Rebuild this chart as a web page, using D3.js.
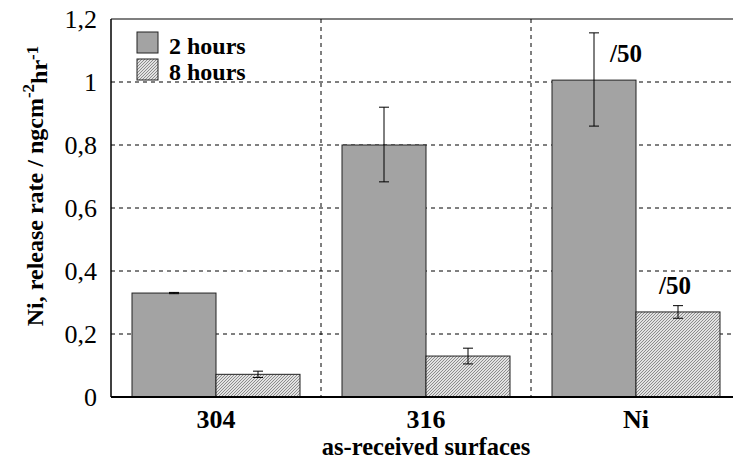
<!DOCTYPE html>
<html>
<head>
<meta charset="utf-8">
<script src="https://cdn.jsdelivr.net/npm/d3@7"></script>
<style>
  body { margin: 0; background: #fff; }
  svg text { font-family: "Liberation Serif", "Times New Roman", serif; fill: #000; }
</style>
</head>
<body>
<svg id="chart"></svg>
<script>
// chart size
const width = 733;
const height = 463;

// data
const categories = ["304", "316", "Ni"];
const seriesNames = ["2 hours", "8 hours"];
const values2h = [0.33, 0.80, 1.006];
const errLow2h = [0.328, 0.683, 0.860];
const errHigh2h = [0.332, 0.920, 1.156];
const values8h = [0.072, 0.130, 0.270];
const errLow8h = [0.062, 0.105, 0.250];
const errHigh8h = [0.082, 0.155, 0.290];
const yTicks = [0, 0.2, 0.4, 0.6, 0.8, 1, 1.2];
const notes = [
  { cat: "Ni", series: "2 hours", text: "/50" },
  { cat: "Ni", series: "8 hours", text: "/50" }
];

const margin = { top: 19, left: 111 };
const plotW = 630, plotH = 378;

const svg = d3.select("#chart")
  .attr("width", width)
  .attr("height", height);

// fine hatched fill for the 8 hour bars
const defs = svg.append("defs");
const pat = defs.append("pattern")
  .attr("id", "hatch")
  .attr("patternUnits", "userSpaceOnUse")
  .attr("width", 3).attr("height", 3);
pat.append("rect").attr("width", 3).attr("height", 3).attr("fill", "#e2e2e2");
pat.append("path")
  .attr("d", "M0,3 L3,0 M-1,1 L1,-1 M2,4 L4,2")
  .attr("stroke", "#8c8c8c").attr("stroke-width", 1);

const rows = categories.map((c, i) => [
  { cat: c, series: "2 hours", v: values2h[i], lo: errLow2h[i], hi: errHigh2h[i] },
  { cat: c, series: "8 hours", v: values8h[i], lo: errLow8h[i], hi: errHigh8h[i] }
]).flat();

const x0 = d3.scaleBand()
  .domain(categories)
  .range([margin.left, margin.left + plotW])
  .paddingInner(0.2)
  .paddingOuter(0.1);

const x1 = d3.scaleBand()
  .domain(seriesNames)
  .range([0, x0.bandwidth()]);

const y = d3.scaleLinear()
  .domain([0, 1.2])
  .range([margin.top + plotH, margin.top]);

const fillFor = s => s === "2 hours" ? "#a3a3a3" : "url(#hatch)";

// horizontal dashed grid
svg.append("g")
  .selectAll("line")
  .data(yTicks.filter(t => t > 0 && t < 1.2))
  .enter().append("line")
  .attr("x1", margin.left).attr("x2", margin.left + plotW)
  .attr("y1", d => y(d)).attr("y2", d => y(d))
  .attr("stroke", "#000")
  .attr("stroke-width", 1)
  .attr("stroke-dasharray", "4,4");

// vertical dashed lines between groups
const step = x0.step();
svg.append("g")
  .selectAll("line")
  .data(categories.slice(1))
  .enter().append("line")
  .attr("x1", d => x0(d) - (step - x0.bandwidth()) / 2)
  .attr("x2", d => x0(d) - (step - x0.bandwidth()) / 2)
  .attr("y1", margin.top).attr("y2", margin.top + plotH)
  .attr("stroke", "#000")
  .attr("stroke-width", 1)
  .attr("stroke-dasharray", "4,4");

// bars
svg.append("g")
  .selectAll("rect")
  .data(rows)
  .enter().append("rect")
  .attr("x", d => x0(d.cat) + x1(d.series))
  .attr("y", d => y(d.v))
  .attr("width", x1.bandwidth())
  .attr("height", d => y(0) - y(d.v))
  .attr("fill", d => fillFor(d.series))
  .attr("stroke", "#222")
  .attr("stroke-width", 1);

// error bars
const eb = svg.append("g").attr("stroke", "#000").attr("stroke-width", 1);
rows.forEach(d => {
  const cx = x0(d.cat) + x1(d.series) + x1.bandwidth() / 2;
  eb.append("line").attr("x1", cx).attr("x2", cx).attr("y1", y(d.lo)).attr("y2", y(d.hi));
  [d.lo, d.hi].forEach(v => {
    eb.append("line").attr("x1", cx - 5).attr("x2", cx + 5).attr("y1", y(v)).attr("y2", y(v));
  });
});

// frame: left, top, bottom
svg.append("line")
  .attr("x1", margin.left).attr("x2", margin.left)
  .attr("y1", margin.top).attr("y2", margin.top + plotH)
  .attr("stroke", "#000").attr("stroke-width", 1.5);
svg.append("line")
  .attr("x1", margin.left).attr("x2", margin.left + plotW)
  .attr("y1", margin.top).attr("y2", margin.top)
  .attr("stroke", "#000").attr("stroke-width", 1.2);
svg.append("line")
  .attr("x1", margin.left).attr("x2", margin.left + plotW)
  .attr("y1", y(0)).attr("y2", y(0))
  .attr("stroke", "#000").attr("stroke-width", 2);

// y tick labels
svg.append("g")
  .selectAll("text")
  .data(yTicks)
  .enter().append("text")
  .attr("x", 97)
  .attr("y", d => y(d))
  .attr("dy", "0.35em")
  .attr("text-anchor", "end")
  .style("font-size", "26px")
  .text(d => d3.format(".1~f")(d).replace(".", ","));

// category labels
svg.append("g")
  .selectAll("text")
  .data(categories)
  .enter().append("text")
  .attr("x", d => x0(d) + x0.bandwidth() / 2)
  .attr("y", 428)
  .attr("text-anchor", "middle")
  .style("font-size", "26px")
  .style("font-weight", "bold")
  .text(d => d);

svg.append("text")
  .attr("x", x0("316") + x0.bandwidth() / 2)
  .attr("y", 455)
  .attr("text-anchor", "middle")
  .style("font-size", "24.5px")
  .style("font-weight", "bold")
  .text("as-received surfaces");

// y axis title with superscripts
const yt = svg.append("text")
  .attr("transform", "translate(43,186) rotate(-90)")
  .attr("text-anchor", "middle")
  .style("font-size", "24px")
  .style("font-weight", "bold");
yt.append("tspan").text("Ni, release rate / ngcm");
yt.append("tspan").attr("dy", "-0.55em").style("font-size", "17px").text("-2");
yt.append("tspan").attr("dy", "0.55em").text("hr");
yt.append("tspan").attr("dy", "-0.55em").style("font-size", "17px").text("-1");

// legend
const legend = svg.append("g");
seriesNames.forEach((s, i) => {
  legend.append("rect")
    .attr("x", 137).attr("y", 32 + i * 27)
    .attr("width", 21).attr("height", 21)
    .attr("fill", fillFor(s))
    .attr("stroke", "#222").attr("stroke-width", 1);
  legend.append("text")
    .attr("x", 169).attr("y", 54 + i * 26)
    .style("font-size", "24px")
    .style("font-weight", "bold")
    .text(s);
});

// "/50" notes
notes.forEach(n => {
  const d = rows.find(r => r.cat === n.cat && r.series === n.series);
  const cx = x0(d.cat) + x1(d.series) + x1.bandwidth() / 2;
  const isTall = d.series === "2 hours";
  svg.append("text")
    .attr("x", isTall ? cx + 32 : cx - 3)
    .attr("y", isTall ? y(d.v) - 18 : y(d.hi) - 12)
    .attr("text-anchor", "middle")
    .style("font-size", "25px")
    .style("font-weight", "bold")
    .text(n.text);
});
</script>
</body>
</html>
